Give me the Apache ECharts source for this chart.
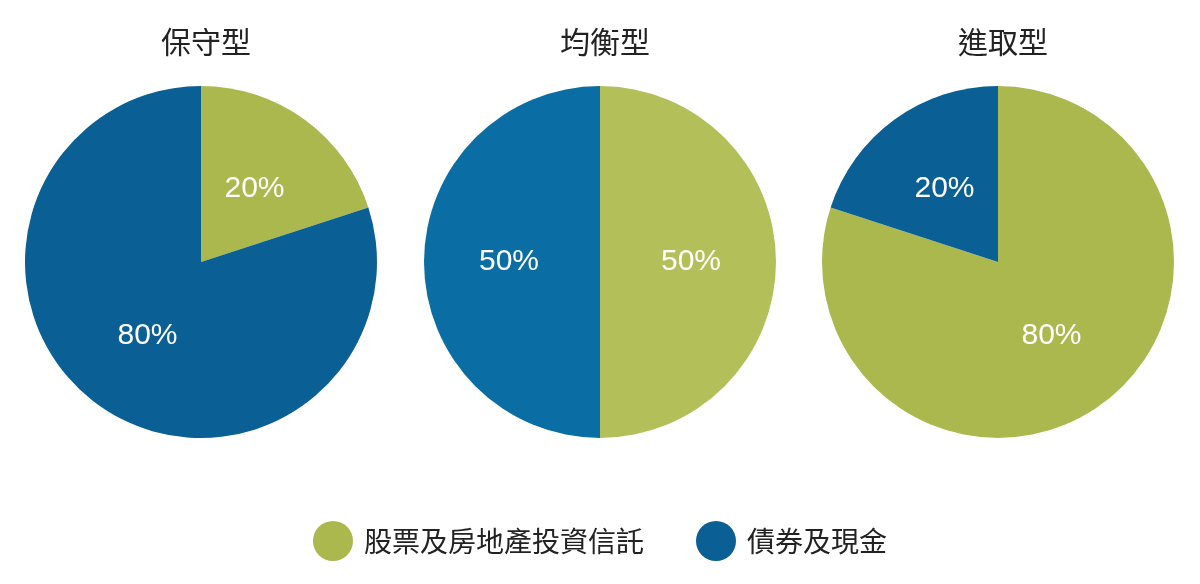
<!DOCTYPE html>
<html>
<head>
<meta charset="utf-8">
<script src="https://cdn.jsdelivr.net/npm/echarts@6/dist/echarts.min.js"></script>
<style>html,body{margin:0;padding:0;background:#fff}#main{width:1200px;height:584px}</style>
</head>
<body>
<div id="main"></div>
<script>
// 資料
var titles = ['保守型', '均衡型', '進取型'];
var categories = ['股票及房地產投資信託', '債券及現金'];
var stockValues = [20, 50, 80];
var bondValues = [80, 50, 20];
var greens = ['#abb84d', '#b3c05a', '#abb84d'];
var blues = ['#0a5f94', '#0a6da3', '#0a5f94'];
var centersX = [201, 600, 998];

var chart = echarts.init(document.getElementById('main'));
var series = [], titleList = [];
for (var i = 0; i < titles.length; i++) {
	titleList.push({
		text: titles[i], left: centersX[i], top: 22, textAlign: 'center',
		textStyle: { fontFamily: 'Noto Sans CJK TC', fontSize: 30, fontWeight: 'normal', color: '#222' }
	});
	series.push({
		type: 'pie',
		center: [centersX[i], 262],
		radius: [0, 176],
		startAngle: 90,
		clockwise: true,
		silent: true,
		label: {
			position: 'inner',
			formatter: '{c}%',
			color: '#fff',
			fontSize: 30,
			fontFamily: 'Liberation Sans'
		},
		labelLine: { show: false },
		itemStyle: { borderWidth: 0 },
		data: [
			{ name: categories[0], value: stockValues[i], itemStyle: { color: greens[i] } },
			{ name: categories[1], value: bondValues[i], itemStyle: { color: blues[i] } }
		]
	});
}
chart.setOption({
	title: titleList,
	color: ['#abb84d', '#0a6096'],
	legend: {
		data: categories,
		bottom: 18,
		left: 'center',
		icon: 'circle',
		itemWidth: 40,
		itemHeight: 40,
		itemGap: 52,
		textStyle: { fontFamily: 'Noto Sans CJK TC', fontSize: 28, color: '#222', padding: [0, 0, 0, 6] }
	},
	series: series
});
</script>
</body>
</html>
